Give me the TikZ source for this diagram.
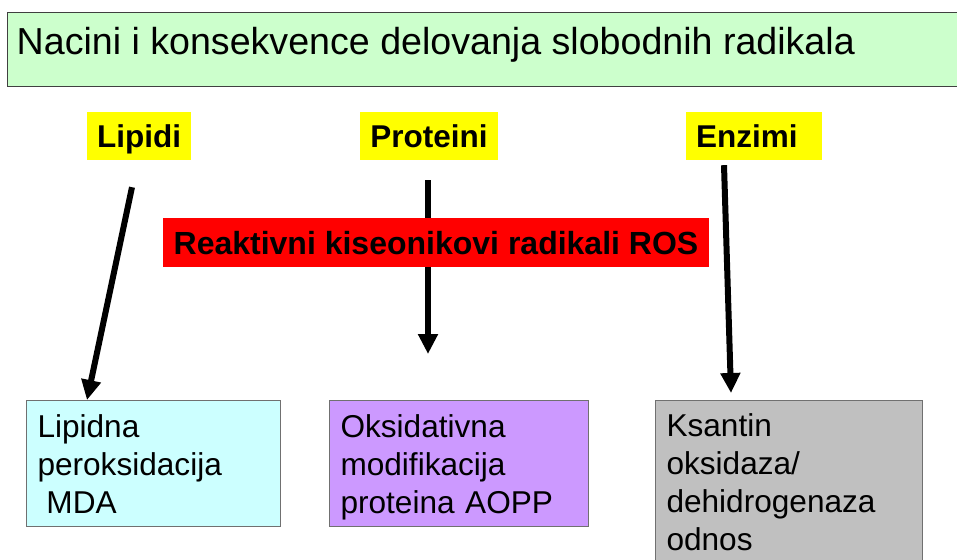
\documentclass[tikz,border=0pt]{standalone}
\usepackage{fontspec}
\setmainfont{Liberation Sans}
\usetikzlibrary{arrows.meta}
\definecolor{barGreen}{HTML}{CCFFCC}
\definecolor{tagYellow}{HTML}{FFFF00}
\definecolor{rosRed}{HTML}{FF0000}
\definecolor{lipCyan}{HTML}{CCFFFF}
\definecolor{protPurple}{HTML}{CC99FF}
\definecolor{enzGrey}{HTML}{C0C0C0}
\definecolor{boxEdge}{HTML}{707070}
\begin{document}
\begin{tikzpicture}[x=1pt,y=-1pt,
    tag/.style={fill=tagYellow, font=\fontsize{31.5}{36}\selectfont\bfseries,
      text height=23pt, text depth=0pt, minimum height=48pt, inner xsep=10pt},
    effect/.style={draw=boxEdge, line width=1pt, anchor=north west, align=left,
      inner xsep=11pt, inner ysep=0pt, text height=23pt,
      font=\fontsize{31.6}{38}\selectfont},
    hit/.style={line width=6pt, -{Triangle[width=19pt,length=20pt]}}]
  \useasboundingbox (0,0) rectangle (957,559);
  % title bar
  \draw[fill=barGreen, draw=black!75, line width=1pt] (7,13) rectangle (965,87);
  \node[anchor=base west, inner sep=0pt, font=\fontsize{37.6}{44}\selectfont] (title) at (16.5,55)
    {Nacini i konsekvence delovanja slobodnih radikala};

  \node[tag] (lip) at (139,136) {Lipidi};
  \node[tag] (prot) at (429,136) {Proteini};
  \node[tag, text width=116pt, align=left] (enz) at (754,136) {Enzimi};

  \node[effect, fill=lipCyan, text width=232pt, minimum height=126pt, text depth=76pt] (lbox) at (26,400)
    {Lipidna\\peroksidacija\\\hspace*{9pt}MDA};
  \node[effect, fill=protPurple, text width=237pt, minimum height=126pt, text depth=76pt] (pbox) at (329,400)
    {Oksidativna\\modifikacija\\proteina AOPP};
  \node[effect, fill=enzGrey, text width=245pt, minimum height=163pt, text depth=114pt] (gbox) at (655,400)
    {Ksantin\\oksidaza/\\dehidrogenaza\\odnos};

  \draw[hit] ([xshift=-7pt,yshift=-27pt]lip.south) -- ([xshift=61pt]lbox.north west);
  \draw[hit] ([xshift=-1pt,yshift=-20pt]prot.south) -- ([xshift=99pt,yshift=46pt]pbox.north west);
  \draw[hit] ([xshift=-30pt,yshift=-5pt]enz.south) -- ([xshift=76pt,yshift=7pt]gbox.north west);

  % ROS bar lies over the middle arrow
  \node[fill=rosRed, font=\fontsize{32}{36}\selectfont\bfseries, text height=23pt, text depth=0pt,
    minimum width=546pt, minimum height=49pt] (ros) at (436,242.5) {Reaktivni kiseonikovi radikali ROS};
\end{tikzpicture}
\end{document}
